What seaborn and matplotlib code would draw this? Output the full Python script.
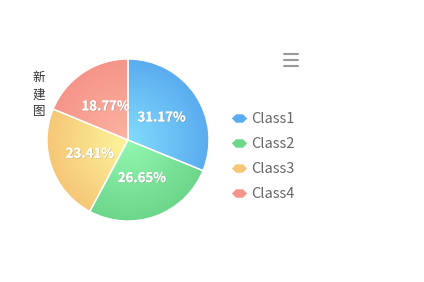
import numpy as np
import matplotlib
matplotlib.use("Agg")
import matplotlib.pyplot as plt
import matplotlib.patheffects as pe
from matplotlib.colors import LinearSegmentedColormap
from matplotlib.lines import Line2D
from matplotlib.patches import Wedge
import seaborn as sns

sns.set_theme(style="white")
plt.rcParams['font.family'] = ['Noto Sans CJK SC', 'DejaVu Sans']

categories = ["Class1", "Class2", "Class3", "Class4"]
values = [31.17, 26.65, 23.41, 18.77]
inner_colors = ["#82dcfd", "#93f8b2", "#fef59c", "#fdb3a2"]
outer_colors = ["#5aacef", "#6cd68a", "#f5c777", "#f59589"]
title = "新建图"

fig = plt.figure(figsize=(4.24, 2.82), dpi=100)
W, H = 424, 282
cx, cy, r = 128, 140, 81
half = r * 1.05
ax = fig.add_axes([(cx - half) / W, (H - cy - half) / H, 2 * half / W, 2 * half / H])

wedges, texts, autotexts = ax.pie(
    values, startangle=90, counterclock=False, colors=outer_colors,
    autopct="%.2f%%", pctdistance=0.5,
    wedgeprops=dict(edgecolor="white", linewidth=1),
    textprops=dict(color="white", fontsize=9.5, fontweight="bold"))
ax.set_xlim(-1.05, 1.05)
ax.set_ylim(-1.05, 1.05)
ax.set_aspect("equal")
ax.axis("off")

# radial gradients clipped to each wedge
n = 300
xs = np.linspace(-1, 1, n)
X, Y = np.meshgrid(xs, xs)
R = np.sqrt(X ** 2 + Y ** 2)
for w, ci, co in zip(wedges, inner_colors, outer_colors):
    cmap = LinearSegmentedColormap.from_list("g", [ci, co])
    im = ax.imshow(R, cmap=cmap, vmin=0, vmax=1, extent=[-1, 1, -1, 1],
                   origin="lower", zorder=w.get_zorder() + 0.1, interpolation="bilinear")
    im.set_clip_path(w)
    edge = Wedge(w.center, w.r, w.theta1, w.theta2, facecolor="none",
                 edgecolor="white", linewidth=1, zorder=w.get_zorder() + 0.2)
    ax.add_patch(edge)
for t in autotexts:
    t.set_zorder(10)
    t.set_path_effects([pe.withSimplePatchShadow(offset=(0.5, -0.5), shadow_rgbFace="#888888", alpha=0.5), pe.Normal()])

# legend
verts = [(-1, 0), (-0.45, 0.55), (0.45, 0.55), (1, 0), (0.45, -0.55), (-0.45, -0.55), (-1, 0)]
handles = [Line2D([], [], marker=verts, linestyle="", markersize=11, color=c,
                  markeredgewidth=0) for c in outer_colors]
leg = fig.legend(handles, categories, loc="upper left",
                 bbox_to_anchor=(224 / W, 1 - 105 / H), frameon=False,
                 fontsize=10.5, labelcolor="#666666", handlelength=1.0,
                 handletextpad=0.35, labelspacing=0.74, borderpad=0)

# title
fig.text(39 / W, 1 - 95 / H, "\n".join(title), ha="center", va="center",
         fontsize=9, color="#333333", linespacing=1.4)

# menu icon
for yy in (54, 60, 66):
    fig.add_artist(Line2D([284 / W, 298 / W], [1 - yy / H, 1 - yy / H],
                          transform=fig.transFigure, color="#999999", linewidth=1.5))

fig.savefig("out.png", dpi=100)
